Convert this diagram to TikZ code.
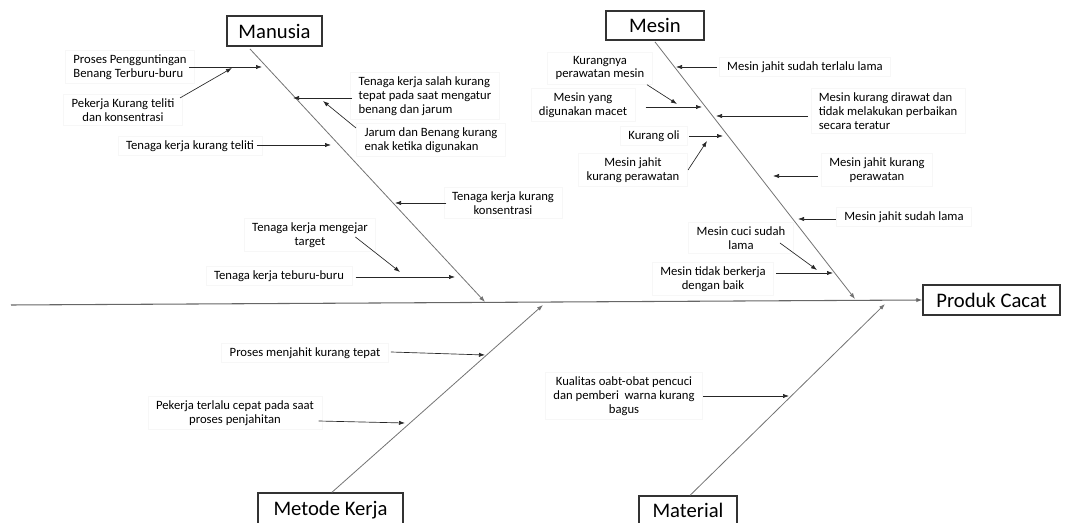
\documentclass[tikz,border=0pt]{standalone}
\usepackage{fontspec}
\setmainfont{Carlito}
\usetikzlibrary{arrows.meta,calc}
\begin{document}
\begin{tikzpicture}[x=0.75pt,y=-0.75pt,
  every node/.style={font=\fontsize{9.5}{10.4}\selectfont},
  cause/.style={align=center, draw=black!3, line width=0.4pt, inner xsep=6pt, inner ysep=3pt, outer xsep=-4pt, outer ysep=-1pt},
  head/.style={draw=black!80, line width=0.9pt, font=\fontsize{15.5}{18}\selectfont, inner sep=0pt},
  tip/.style={-{Latex[length=4.5pt,width=3.2pt]}},
  bone/.style={draw=black!55, line width=0.6pt, tip},
  spine/.style={draw=black!60, line width=0.8pt, tip},
  arr/.style={draw=black!85, line width=0.5pt, tip}]

\path[use as bounding box] (0,0) rectangle (1065,523);
\clip (0,0) rectangle (1065,523);

% category heads and the effect
\node[head, minimum width=71.25pt, minimum height=22.5pt] (manusia) at (274.5,31) {Manusia};
\node[head, minimum width=73.5pt, minimum height=21.75pt] (mesin) at (655,25.5) {Mesin};
\node[head, minimum width=102.75pt, minimum height=22.5pt] (produk) at (991.5,300) {Produk Cacat};
\node[head, minimum width=108.75pt, minimum height=25.5pt] (metode) at (330.5,510) {Metode Kerja};
\node[head, minimum width=73.5pt, minimum height=21pt] (material) at (688,510) {Material};

% spine and bones
\coordinate (tail) at (11,305);
\draw[spine] (tail) -- (produk.west);

\coordinate (mtop) at (250,49);
\coordinate (mjoin) at (485,302);
\draw[bone] (mtop) -- (mjoin);

\coordinate (sjoin) at (855,299);
\draw[bone] ([yshift=-1pt]mesin.south) -- (sjoin);

\coordinate (kjoin) at (543,305);
\draw[bone] ([xshift=1pt]metode.north) -- (kjoin);

\coordinate (tjoin) at (885,304);
\draw[bone] ([xshift=1.5pt]material.north) -- (tjoin);

% Manusia causes
\node[cause, align=left] (m1) at (130,67) {Proses Pengguntingan\\Benang Terburu-buru};
\coordinate (m1t) at (262,67);
\draw[arr] (m1.east |- m1t) -- (m1t);

\node[cause] (m2) at (123,110) {Pekerja Kurang teliti\\dan konsentrasi};
\coordinate (m2t) at (232,68);
\draw[arr] ($(m2.north east)+(3,2)$) -- (m2t);

\node[cause] (m3) at (190,146) {Tenaga kerja kurang teliti};
\coordinate (m3t) at (331,145);
\draw[arr] (m3.east |- m3t) -- (m3t);

\node[cause, align=left] (m4) at (425,96) {Tenaga kerja salah kurang\\tepat pada saat mengatur\\benang dan jarum};
\coordinate (m4t) at (293,98);
\draw[arr] (m4.west |- m4t) ++(-4,0) -- (m4t);

\node[cause, align=left] (m5) at (431,140) {Jarum dan Benang kurang\\enak ketika digunakan};
\coordinate (m5t) at (323,101);
\draw[arr] ($(m5.north west)+(-6,3)$) -- (m5t);

\node[cause] (m6) at (503,203) {Tenaga kerja kurang\\konsentrasi};
\coordinate (m6t) at (395,203);
\draw[arr] (m6.west |- m6t) ++(-3,0) -- (m6t);

\node[cause] (m7) at (310,235) {Tenaga kerja mengejar\\target};
\coordinate (m7t) at (400,272);
\draw[arr] ($(m7.east)+(-15,2)$) -- (m7t);

\node[cause] (m8) at (279,276) {Tenaga kerja teburu-buru};
\coordinate (m8t) at (455,277);
\draw[arr] (m8.east |- m8t) ++(9,0) -- (m8t);

% Mesin causes
\node[cause] (s1) at (600,68) {Kurangnya\\perawatan mesin};
\coordinate (s1t) at (677,104);
\draw[arr] ($(s1.south east)+(0,2)$) -- (s1t);

\node[cause] (s2) at (583,105) {Mesin yang\\digunakan macet};
\coordinate (s2t) at (702,107);
\draw[arr] (s2.east |- s2t) ++(16,0) -- (s2t);

\node[cause, align=left] (s3) at (888,111) {Mesin kurang dirawat dan\\tidak melakukan perbaikan\\secara teratur};
\coordinate (s3t) at (716,116);
\draw[arr] (s3.west |- s3t) ++(-8,0) -- (s3t);

\node[cause] (s4) at (654,136) {Kurang oli};
\coordinate (s4t) at (723,136);
\draw[arr] (s4.east |- s4t) ++(7,0) -- (s4t);

\node[cause] (s5) at (633,170) {Mesin jahit\\kurang perawatan};
\coordinate (s5t) at (707,141);
\draw[arr] ($(s5.east)+(6,0)$) -- (s5t);

\node[cause] (s6) at (805,67) {Mesin jahit sudah terlalu lama};
\coordinate (s6t) at (676,67);
\draw[arr] (s6.west |- s6t) ++(-8,0) -- (s6t);

\node[cause] (s7) at (877,170) {Mesin jahit kurang\\perawatan};
\coordinate (s7t) at (773,176);
\draw[arr] (s7.west |- s7t) ++(-9,0) -- (s7t);

\node[cause] (s8) at (904,217) {Mesin jahit sudah lama};
\coordinate (s8t) at (798,219);
\draw[arr] (s8.west |- s8t) ++(-6,0) -- (s8t);

\node[cause] (s9) at (741,238) {Mesin cuci sudah\\lama};
\coordinate (s9t) at (817,270);
\draw[arr] ($(s9.east)+(-8,5)$) -- (s9t);

\node[cause] (s10) at (713,279) {Mesin tidak berkerja\\dengan baik};
\coordinate (s10t) at (833,273);
\draw[arr] (s10.east |- s10t) ++(8,0) -- (s10t);

% Metode Kerja causes
\node[cause] (k1) at (305,353) {Proses menjahit kurang tepat};
\coordinate (k1t) at (485,355);
\draw[arr] ($(k1.east)+(8,-1)$) -- (k1t);

\node[cause] (k2) at (235,413) {Pekerja terlalu cepat pada saat\\proses penjahitan};
\coordinate (k2t) at (405,423);
\draw[arr] ($(k2.east)+(2,8)$) -- (k2t);

% Material cause
\node[cause] (t1) at (624,396) {Kualitas oabt-obat pencuci\\dan pemberi\hspace{2pt} warna kurang\\bagus};
\coordinate (t1t) at (789,396);
\draw[arr] (t1.east |- t1t) ++(6,0) -- (t1t);
\end{tikzpicture}
\end{document}
